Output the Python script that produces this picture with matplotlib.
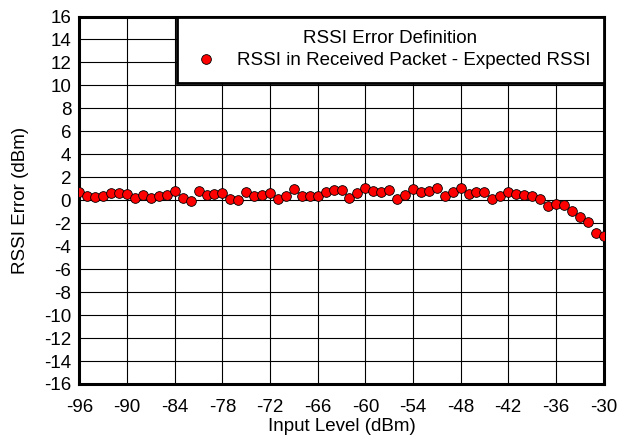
import matplotlib.pyplot as plt
import numpy as np

plt.rcParams['font.family'] = ['Liberation Sans', 'DejaVu Sans']
plt.rcParams['axes.unicode_minus'] = False

# Input level (dBm), 1 dB steps
input_level = list(range(-96, -29))
rssi_error = [
    0.71, 0.34, 0.29, 0.40, 0.63, 0.63, 0.57, 0.17, 0.46, 0.20,
    0.34, 0.46, 0.80, 0.17, -0.09, 0.77, 0.49, 0.57, 0.63, 0.14,
    0.06, 0.71, 0.40, 0.46, 0.63, 0.11, 0.40, 0.97, 0.34, 0.40,
    0.40, 0.69, 0.91, 0.91, 0.17, 0.63, 1.06, 0.83, 0.71, 0.86,
    0.11, 0.49, 0.97, 0.69, 0.83, 1.06, 0.34, 0.76, 1.06, 0.57,
    0.69, 0.69, 0.11, 0.34, 0.74, 0.54, 0.43, 0.40, 0.11, -0.47,
    -0.35, -0.38, -0.91, -1.47, -1.91, -2.82, -3.09,
]
x_ticks = list(range(-96, -29, 6))
y_ticks = list(range(-16, 17, 2))

fig = plt.figure(figsize=(6.19, 4.38), dpi=100)
ax = fig.add_axes([0.1284, 0.1233, 0.8466, 0.839])

ax.plot(input_level, rssi_error, linestyle='none', marker='o', markersize=7,
        markerfacecolor='#ff0000', markeredgecolor='black', markeredgewidth=0.6,
        label='RSSI in Received Packet - Expected RSSI', zorder=3)

ax.set_xlim(-96, -30)
ax.set_ylim(-16, 16)
ax.set_xticks(x_ticks)
ax.set_yticks(y_ticks)
ax.tick_params(length=0, labelsize=13.5)
ax.tick_params(axis='x', pad=11)
ax.tick_params(axis='y', pad=6)
ax.grid(True, color='black', linewidth=0.8)
for s in ax.spines.values():
    s.set_linewidth(2.2)

ax.set_xlabel('Input Level (dBm)', fontsize=13.5, labelpad=1.5)
ax.set_ylabel('RSSI Error (dBm)', fontsize=13.5, labelpad=11)

leg = ax.legend(title='RSSI Error Definition', loc='upper right', fontsize=13.5,
                title_fontsize=13.5, borderaxespad=0, fancybox=False, framealpha=1,
                edgecolor='black', handlelength=1.7, handletextpad=0.8,
                borderpad=0.7, labelspacing=0.3)
leg.get_frame().set_linewidth(2.0)
leg.set_zorder(5)

fig.savefig('out.png', dpi=100)
